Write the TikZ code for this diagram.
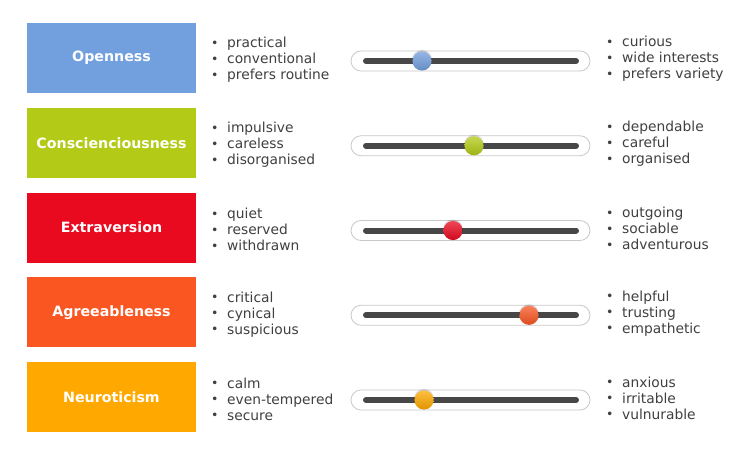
\documentclass[tikz,border=0pt]{standalone}
\usepackage{fontspec}
\setmainfont{DejaVu Sans}
\usetikzlibrary{shadings}
\definecolor{cOpen}{HTML}{729FDD}
\definecolor{cCons}{HTML}{B3CB16}
\definecolor{cExtr}{HTML}{EA0A20}
\definecolor{cAgre}{HTML}{FA5622}
\definecolor{cNeur}{HTML}{FFA900}
\definecolor{txt}{HTML}{404040}
\definecolor{bar}{HTML}{474747}
\definecolor{rim}{HTML}{C9C9C9}
\tikzset{
  traitbox/.style={draw=none, minimum width=169pt, minimum height=70pt, inner sep=0pt,
    text=white, font=\fontsize{14.2}{16}\selectfont\bfseries},
  itemlist/.style={text=txt, align=left, anchor=west, inner sep=0pt,
    font=\fontsize{13.8}{16}\selectfont},
  track/.style={draw=rim, line width=0.8pt, fill=white, rounded corners=10pt},
  groove/.style={draw=bar, line width=6pt, line cap=round},
}
\newcommand{\bul}[1]{\makebox[16pt][l]{\fontsize{12.5}{12}\selectfont\raisebox{0.3pt}{•}}#1}
\begin{document}
\begin{tikzpicture}[x=1pt,y=-1pt]
\useasboundingbox (0,0) rectangle (750,455);
\fill[white] (0,0) rectangle (750,455);
\foreach \i/\name/\col/\knob/\la/\lb/\lc/\ra/\rb/\rc in {
  0/Openness/cOpen/422/practical/conventional/prefers routine/curious/wide interests/prefers variety,
  1/Conscienciousness/cCons/474/impulsive/careless/disorganised/dependable/careful/organised,
  2/Extraversion/cExtr/453/quiet/reserved/withdrawn/outgoing/sociable/adventurous,
  3/Agreeableness/cAgre/529/critical/cynical/suspicious/helpful/trusting/empathetic,
  4/Neuroticism/cNeur/424/calm/even-tempered/secure/anxious/irritable/vulnurable}
{
  \pgfmathsetmacro{\cy}{58+84.75*\i}
  \node[traitbox, fill=\col] (box\i) at (111.5,\cy) {\name};
  \node[itemlist] (left\i) at (211,\cy+2) {\bul{\la}\\\bul{\lb}\\\bul{\lc}};
  \node[itemlist] (right\i) at (606,\cy+1) {\bul{\ra}\\\bul{\rb}\\\bul{\rc}};
  \draw[track] (351,\cy-7) rectangle (590,\cy+13);
  \coordinate (gs\i) at (366,\cy+3);
  \coordinate (ge\i) at (576,\cy+3);
  \draw[groove] (gs\i) -- (ge\i);
  \coordinate (k\i) at (\knob,\cy+3);
  \fill[black, opacity=0.15] ([yshift=1pt]k\i) circle (10pt);
  \shade[top color=\col!75!white, middle color=\col, bottom color=\col!88!black] (k\i) circle (9.6pt);
}
\end{tikzpicture}
\end{document}
